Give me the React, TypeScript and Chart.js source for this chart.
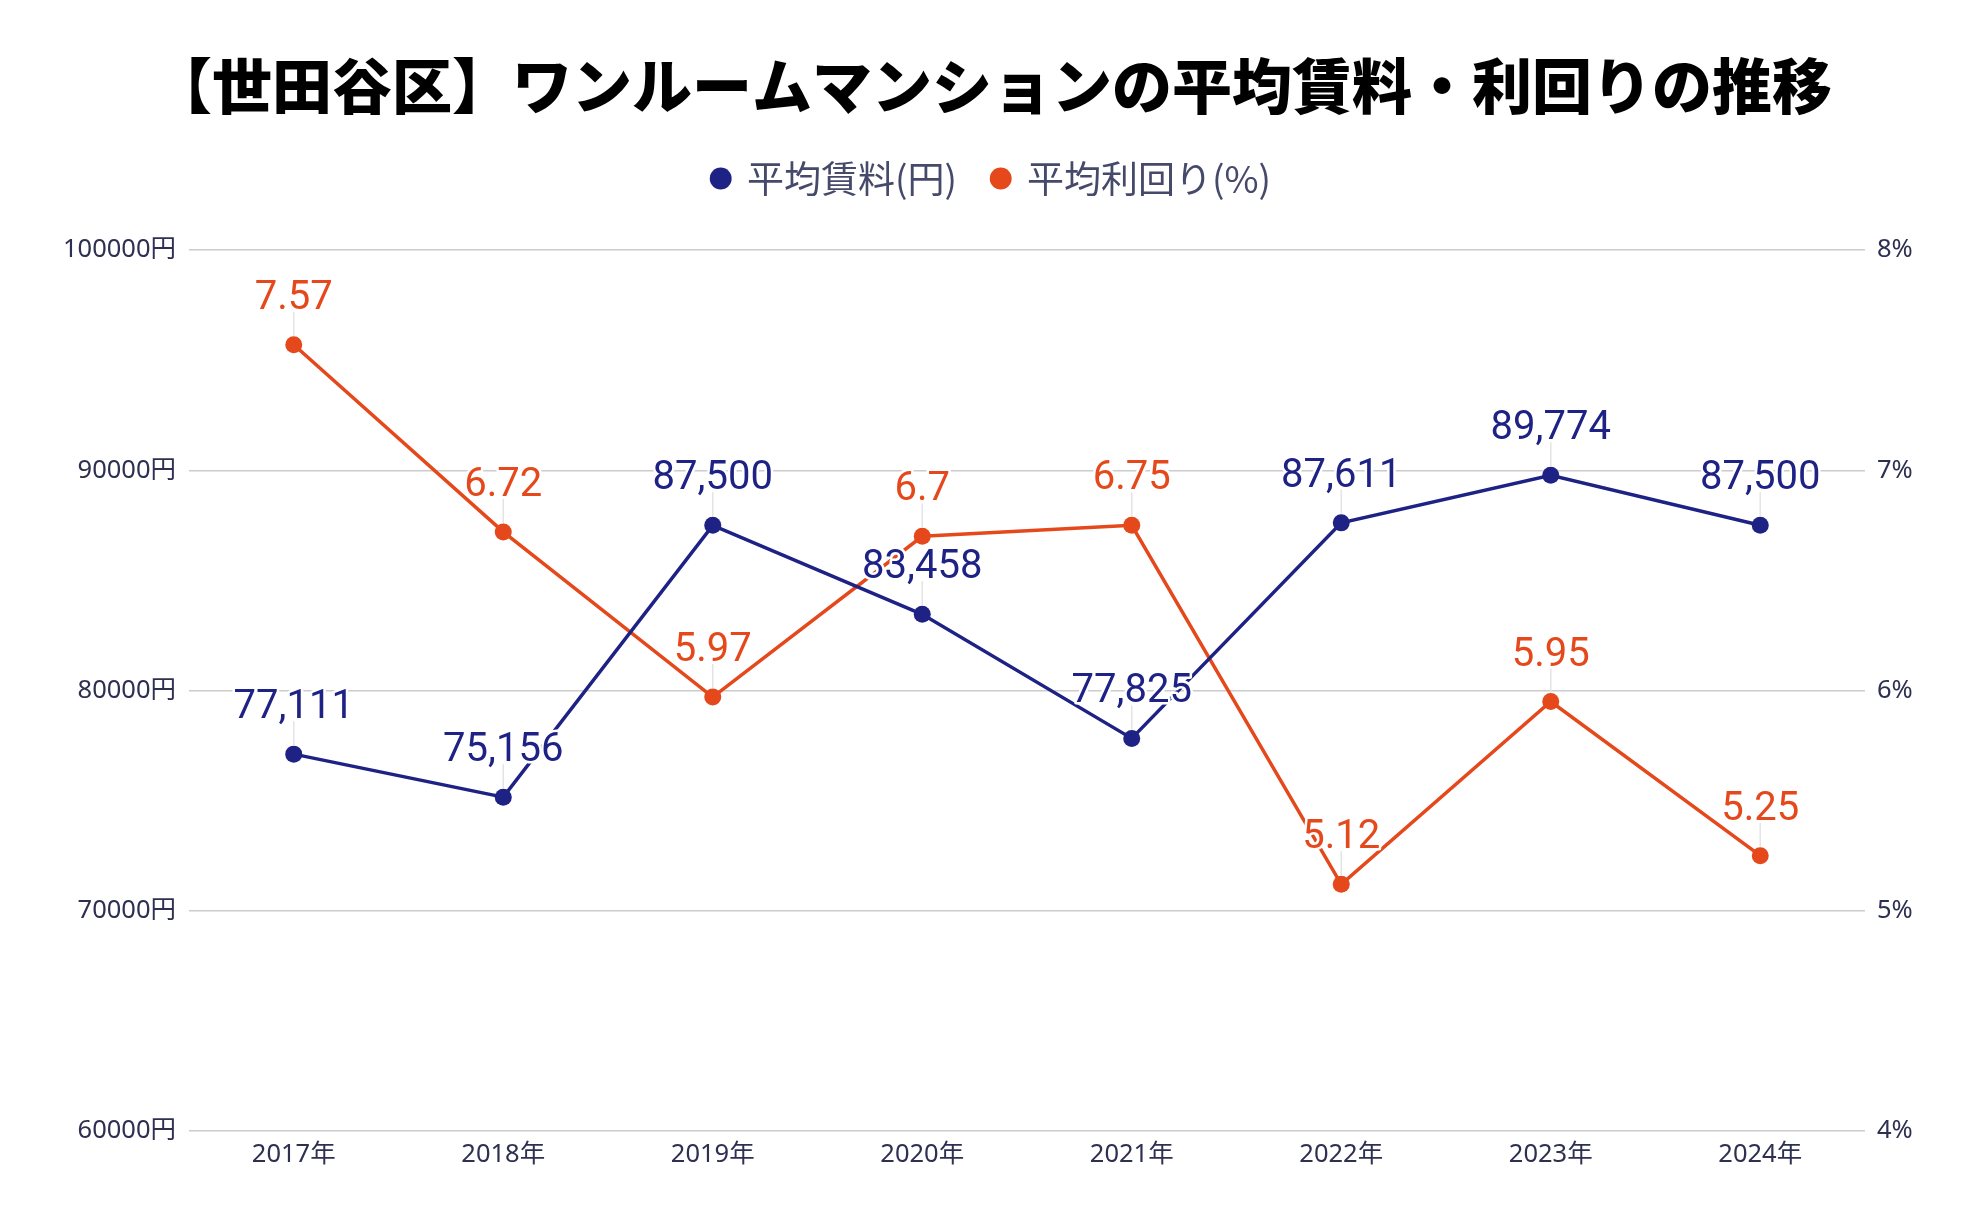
import React, { useEffect, useRef } from 'react';
import { Chart, registerables } from 'chart.js';

Chart.register(...registerables);

const titleText = '【世田谷区】ワンルームマンションの平均賃料・利回りの推移';
const categories = ['2017年', '2018年', '2019年', '2020年', '2021年', '2022年', '2023年', '2024年'];
const rentValues = [77111, 75156, 87500, 83458, 77825, 87611, 89774, 87500];
const yieldValues = [7.57, 6.72, 5.97, 6.7, 6.75, 5.12, 5.95, 5.25];
const rentTicks = [60000, 70000, 80000, 90000, 100000];
const yieldTicks = [4, 5, 6, 7, 8];
const seriesNames = ['平均賃料(円)', '平均利回り(%)'];

const NAVY = '#1f2285';
const ORANGE = '#e5481b';
const TICK_COLOR = '#2d3050';
const LEGEND_COLOR = '#464a6a';
const TICK_FONT = { size: 25.5, family: '"Noto Sans", "Noto Sans CJK JP", sans-serif' };

const labelPlugin = {
  id: 'pointLabels',
  afterDatasetsDraw(chart: any) {
    const ctx = chart.ctx;
    ctx.save();
    chart.data.datasets.forEach((ds: any, di: number) => {
      const meta = chart.getDatasetMeta(di);
      meta.data.forEach((pt: any) => {
        ctx.strokeStyle = '#e4e4e4';
        ctx.lineWidth = 1.5;
        ctx.beginPath();
        ctx.moveTo(pt.x, pt.y - 9);
        ctx.lineTo(pt.x, pt.y - 33);
        ctx.stroke();
      });
    });
    chart.data.datasets.forEach((ds: any, di: number) => {
      const meta = chart.getDatasetMeta(di);
      meta.data.forEach((pt: any, i: number) => {
        const v = ds.data[i];
        const text = di === 0 ? Number(v).toLocaleString('en-US') : String(v);
        ctx.font = '40px Roboto';
        ctx.textAlign = 'center';
        ctx.textBaseline = 'alphabetic';
        ctx.lineJoin = 'round';
        ctx.lineWidth = 5;
        ctx.strokeStyle = '#ffffff';
        ctx.strokeText(text, pt.x, pt.y - 36);
        ctx.fillStyle = ds.borderColor;
        ctx.fillText(text, pt.x, pt.y - 36);
      });
    });
    ctx.restore();
  },
};

export default function App() {
  const ref = useRef<HTMLCanvasElement>(null);
  useEffect(() => {
    if (!ref.current) return;
    const chart = new Chart(ref.current, {
      type: 'line',
      data: {
        labels: categories,
        datasets: [
          {
            label: seriesNames[0],
            data: rentValues,
            yAxisID: 'y',
            borderColor: NAVY,
            backgroundColor: NAVY,
            pointBackgroundColor: NAVY,
            borderWidth: 3.5,
            pointRadius: 8.5,
            pointBorderWidth: 0,
            pointStyle: 'circle',
            tension: 0,
          },
          {
            label: seriesNames[1],
            data: yieldValues,
            yAxisID: 'y1',
            borderColor: ORANGE,
            backgroundColor: ORANGE,
            pointBackgroundColor: ORANGE,
            borderWidth: 3.5,
            pointRadius: 8.5,
            pointBorderWidth: 0,
            pointStyle: 'circle',
            tension: 0,
          },
        ],
      },
      options: {
        responsive: false,
        animation: false,
        devicePixelRatio: 1,
        layout: { padding: 0 },
        plugins: {
          title: {
            display: true,
            text: titleText,
            color: '#000000',
            font: { size: 60, weight: 900, family: '"Noto Sans CJK JP", sans-serif', lineHeight: 1.2 },
            padding: { top: 50, bottom: 2 },
          },
          subtitle: {
            display: true,
            text: ' ',
            position: 'top',
            weight: 500,
            font: { size: 10, lineHeight: 1 },
            padding: { top: 33, bottom: 0 },
          },
          legend: {
            display: true,
            position: 'top',
            labels: {
              usePointStyle: true,
              pointStyle: 'circle',
              boxWidth: 15.5,
              boxHeight: 15.5,
              padding: 36,
              color: LEGEND_COLOR,
              font: { size: 37, family: '"Noto Sans CJK JP", sans-serif' },
            },
          },
          tooltip: { enabled: false },
        },
        scales: {
          x: {
            type: 'category',
            offset: true,
            grid: { display: false, drawTicks: false },
            border: { display: false },
            ticks: { color: TICK_COLOR, font: TICK_FONT, padding: 8, maxRotation: 0 },
            afterFit(s: any) { s.height = 97; },
          },
          y: {
            position: 'left',
            min: rentTicks[0],
            max: rentTicks[rentTicks.length - 1],
            afterBuildTicks(s: any) { s.ticks = rentTicks.map((v) => ({ value: v })); },
            ticks: { color: TICK_COLOR, font: TICK_FONT, padding: 13, callback: (v: any) => v + '円' },
            grid: { color: '#cccccc', lineWidth: 1.5, drawTicks: false },
            border: { display: false },
            afterFit(s: any) { s.width = 189; },
          },
          y1: {
            position: 'right',
            min: yieldTicks[0],
            max: yieldTicks[yieldTicks.length - 1],
            afterBuildTicks(s: any) { s.ticks = yieldTicks.map((v) => ({ value: v })); },
            ticks: { color: TICK_COLOR, font: TICK_FONT, padding: 12, callback: (v: any) => v + '%' },
            grid: { display: false, drawTicks: false },
            border: { display: false },
            afterFit(s: any) { s.width = 119; },
          },
        },
      },
      plugins: [labelPlugin],
    } as any);
    return () => chart.destroy();
  }, []);
  return (
    <div style={{ position: 'fixed', left: 0, top: 0, width: 1984, height: 1228, background: '#fff' }}>
      <canvas ref={ref} width={1984} height={1228} />
    </div>
  );
}
